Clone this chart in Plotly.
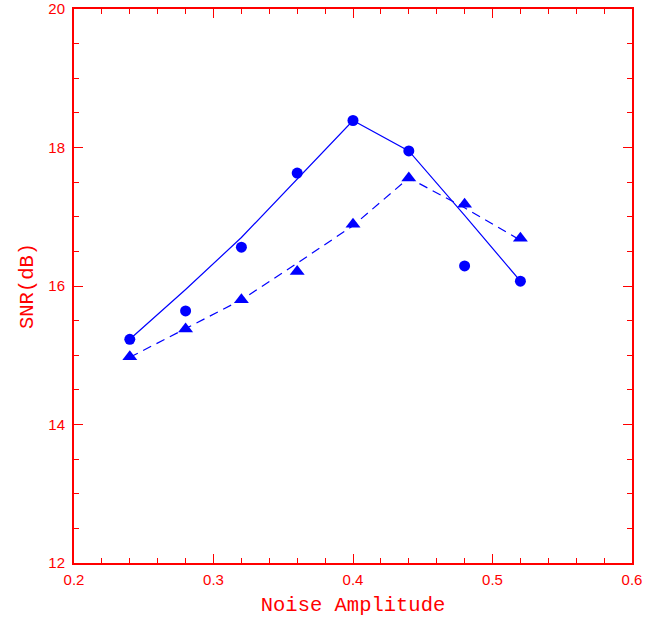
import plotly.graph_objects as go

noise = [0.24, 0.28, 0.32, 0.36, 0.40, 0.44, 0.48, 0.52]
snr_circle = [15.23, 15.64, 16.56, 17.63, 18.39, 17.95, 16.29, 16.07]
snr_triangle = [14.98, 15.38, 15.80, 16.21, 16.89, 17.56, 17.18, 16.69]
fit_solid = [15.23, 15.95, 16.70, 17.55, 18.39, 17.95, 17.02, 16.07]
fit_dashed = [14.97, 15.38, 15.80, 16.33, 16.87, 17.56, 17.13, 16.66]

x_ticks = [0.2, 0.3, 0.4, 0.5, 0.6]
x_labels = ["0.2", "0.3", "0.4", "0.5", "0.6"]
y_ticks = [12, 14, 16, 18, 20]
y_labels = ["12", "14", "16", "18", "20"]

blue = "#0000ff"
red = "#ff0000"

fig = go.Figure()
fig.add_trace(go.Scatter(x=noise, y=fit_solid, mode="lines",
                         line=dict(color=blue, width=1.2), showlegend=False))
fig.add_trace(go.Scatter(x=noise, y=fit_dashed, mode="lines",
                         line=dict(color=blue, width=1.2, dash="9px,6px"), showlegend=False))
fig.add_trace(go.Scatter(x=noise, y=snr_circle, mode="markers",
                         marker=dict(symbol="circle", size=11, color=blue), showlegend=False))
fig.add_trace(go.Scatter(x=noise, y=snr_triangle, mode="markers",
                         marker=dict(symbol="triangle-up", size=13, color=blue), showlegend=False))

axis_common = dict(
    showgrid=False, zeroline=False,
    showline=True, linecolor=red, linewidth=2,
    mirror="allticks", ticks="inside", tickcolor=red, tickwidth=1.2,
    ticklabeloverflow="allow",
    tickfont=dict(family="Liberation Sans, Arial", size=15, color=red),
)
title_font = dict(family="Liberation Mono, DejaVu Sans Mono", size=20.5, color=red)

fig.update_xaxes(range=[0.2, 0.6], tickvals=x_ticks, ticktext=x_labels, ticklen=9,
                 ticklabelstandoff=2,
                 minor=dict(dtick=0.02, tick0=0.2, ticks="inside", ticklen=5, tickcolor=red, tickwidth=1.2),
                 title=dict(text="Noise Amplitude", standoff=10, font=title_font),
                 **axis_common)
fig.update_yaxes(range=[12, 20], tickvals=y_ticks, ticktext=y_labels, ticklen=9,
                 ticklabelstandoff=4,
                 minor=dict(dtick=0.5, tick0=12, ticks="inside", ticklen=5, tickcolor=red, tickwidth=1.2),
                 title=dict(text="SNR(dB)", standoff=9, font=title_font),
                 **axis_common)

fig.update_layout(width=655, height=622,
                  margin=dict(l=74, r=23, t=9, b=59, autoexpand=False),
                  paper_bgcolor="white", plot_bgcolor="white")

fig.write_html("out.html", config={"displayModeBar": False},
               post_script="document.body.style.margin='0';")
